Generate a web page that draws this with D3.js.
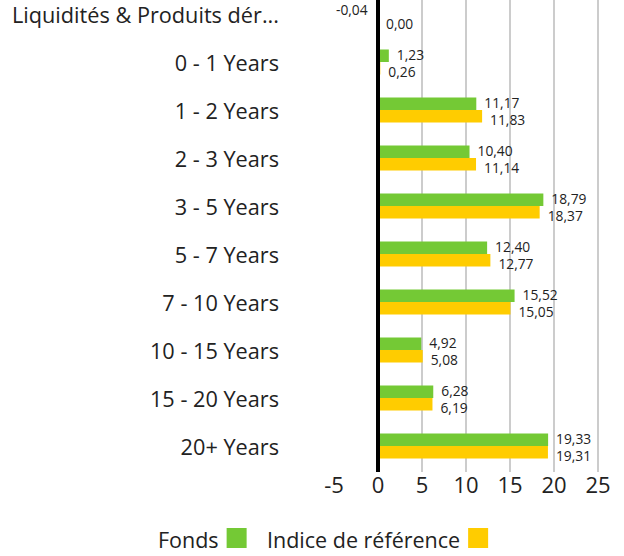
<!DOCTYPE html>
<html>
<head>
<meta charset="utf-8">
<script src="https://cdn.jsdelivr.net/npm/d3@7"></script>
<style>
    body { margin: 0; background: #fff; }
    text { font-family: "Open Sans", sans-serif; fill: #222; }
</style>
</head>
<body>
<svg id="chart"></svg>
<script>
// data
var categories = ['Liquidités & Produits dér...', '0 - 1 Years', '1 - 2 Years', '2 - 3 Years', '3 - 5 Years',
    '5 - 7 Years', '7 - 10 Years', '10 - 15 Years', '15 - 20 Years', '20+ Years'];
var fondsValues = [-0.04, 1.23, 11.17, 10.40, 18.79, 12.40, 15.52, 4.92, 6.28, 19.33];
var indiceValues = [0.00, 0.26, 11.83, 11.14, 18.37, 12.77, 15.05, 5.08, 6.19, 19.31];
var seriesNames = ['Fonds', 'Indice de référence'];
var seriesColors = ['#74c935', '#ffcc00'];
var xTicks = [-5, 0, 5, 10, 15, 20, 25];

var width = 624,
    height = 556,
    plotTop = -10,
    plotBottom = 470;

var svg = d3.select('#chart')
    .attr('width', width)
    .attr('height', height);

var rows = categories.map(function (c, i) {
    return { name: c, values: [fondsValues[i], indiceValues[i]] };
});

var x = d3.scaleLinear()
    .domain([-5, 25])
    .range([334, 598]);

var y = d3.scaleBand()
    .domain(categories)
    .range([plotTop, plotBottom])
    .padding(0);

var inner = d3.scaleBand()
    .domain([0, 1])
    .range([y.bandwidth() / 2 - 12.5, y.bandwidth() / 2 + 12.5]);

var fmt = function (v) {
    return d3.format('.2f')(v).replace('.', ',').replace('\u2212', '-');
};

//Gridlines
svg.append('g')
    .selectAll('line')
    .data(xTicks.filter(function (t) { return t > 0; }))
    .enter().append('line')
    .attr('x1', function (d) { return x(d); })
    .attr('x2', function (d) { return x(d); })
    .attr('y1', 0)
    .attr('y2', plotBottom + 2)
    .attr('stroke', '#cccccc')
    .attr('stroke-width', 2);

//Category labels
svg.append('g')
    .selectAll('text')
    .data(categories)
    .enter().append('text')
    .attr('x', 279)
    .attr('y', function (d) { return y(d) + y.bandwidth() / 2 + 1; })
    .attr('dy', '0.36em')
    .style('text-anchor', 'end')
    .style('font-size', '21.7px')
    .text(function (d) { return d; });

//Bars
var groups = svg.append('g')
    .selectAll('g')
    .data(rows)
    .enter().append('g')
    .attr('transform', function (d) { return 'translate(0,' + y(d.name) + ')'; });

groups.selectAll('rect')
    .data(function (d) { return d.values; })
    .enter().append('rect')
    .attr('x', function (d) { return x(Math.min(0, d)); })
    .attr('y', function (d, i) { return inner(i); })
    .attr('width', function (d) { return Math.abs(x(d) - x(0)); })
    .attr('height', inner.bandwidth())
    .attr('fill', function (d, i) { return seriesColors[i]; });

// value labels, kept inside the top edge
groups.selectAll('text')
    .data(function (d) { return d.values; })
    .enter().append('text')
    .attr('x', function (d) { return d < 0 ? x(d) - 10 : x(d) + 8; })
    .attr('y', function (d, i) {
        var row = d3.select(this.parentNode).datum();
        var cy = inner(i) + inner.bandwidth() / 2 + (i === 0 ? -1 : 4);
        return Math.max(cy, 10 - y(row.name));
    })
    .attr('dy', '0.35em')
    .style('text-anchor', function (d) { return d < 0 ? 'end' : 'start'; })
    .style('font-size', '13.8px')
    .text(function (d) { return fmt(d); });

//Zero line
svg.append('line')
    .attr('x1', x(0))
    .attr('x2', x(0))
    .attr('y1', 0)
    .attr('y2', plotBottom + 2)
    .attr('stroke', '#000')
    .attr('stroke-width', 4);

//X axis labels
svg.append('g')
    .selectAll('text')
    .data(xTicks)
    .enter().append('text')
    .attr('x', function (d) { return x(d); })
    .attr('y', 493)
    .style('text-anchor', 'middle')
    .style('font-size', '22px')
    .text(function (d) { return d; });

//Legend
var legendX = [158, 267];
var legend = svg.append('g')
    .selectAll('g')
    .data(seriesNames)
    .enter().append('g');

legend.append('text')
    .attr('x', function (d, i) { return legendX[i]; })
    .attr('y', 548)
    .style('font-size', '21.5px')
    .text(function (d) { return d; })
    .each(function (d, i) {
        var w = this.getComputedTextLength();
        d3.select(this.parentNode).append('rect')
            .attr('x', legendX[i] + w + 8)
            .attr('y', 528)
            .attr('width', 20)
            .attr('height', 20)
            .attr('fill', seriesColors[i]);
    });
</script>
</body>
</html>
